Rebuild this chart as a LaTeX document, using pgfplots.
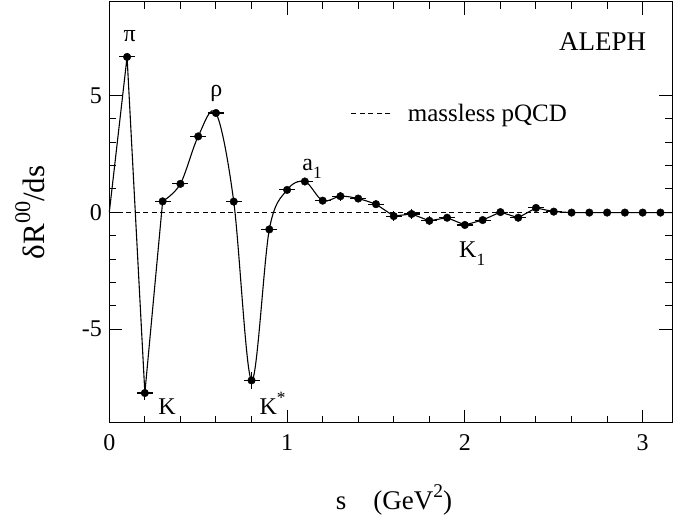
\documentclass[border=0pt]{standalone}
\usepackage{pgfplots}
\pgfplotsset{compat=1.18}
\usepackage{pgfplotstable}
\usepackage{graphicx}
\usepackage{fontspec}
\setmainfont{Liberation Serif}
\newcommand\sups[1]{\raisebox{0.45em}{\scalebox{0.72}{#1}}}
\newcommand\subs[1]{\raisebox{-0.32em}{\scalebox{0.72}{#1}}}

\pgfplotstableread{
x y ex ey
0.1 6.65 0.045 0.15
0.2 -7.73 0.045 0.30
0.3 0.47 0.045 0.10
0.4 1.22 0.045 0.10
0.5 3.25 0.045 0.10
0.6 4.25 0.045 0.10
0.7 0.46 0.045 0.10
0.8 -7.19 0.045 0.38
0.9 -0.73 0.045 0.10
1.0 0.96 0.045 0.10
1.1 1.32 0.045 0.10
1.2 0.50 0.045 0.15
1.3 0.69 0.045 0.20
1.4 0.59 0.045 0.15
1.5 0.35 0.045 0.10
1.6 -0.16 0.045 0.20
1.7 -0.07 0.045 0.20
1.8 -0.36 0.045 0.20
1.9 -0.23 0.045 0.15
2.0 -0.54 0.045 0.15
2.1 -0.33 0.045 0.10
2.2 0.01 0.045 0.10
2.3 -0.23 0.045 0.10
2.4 0.19 0.045 0.10
2.5 0.03 0.045 0.05
2.6 -0.01 0.045 0.05
2.7 -0.01 0.045 0.05
2.8 -0.01 0.045 0.05
2.9 -0.01 0.045 0.05
3.0 -0.01 0.045 0.05
3.1 -0.01 0.045 0.05
}\datatab

\begin{document}
\begin{tikzpicture}
\begin{axis}[
  scale only axis,
  width=562.7pt, height=420.7pt,
  xmin=0, xmax=3.165, ymin=-9, ymax=9,
  axis line style={line width=1pt},
  every tick/.style={line width=1pt, black},
  xtick={0,1,2,3}, ytick={-5,0,5},
  minor x tick num=4, minor y tick num=4,
  major tick length=13pt, minor tick length=7pt,
  tick align=inside,
  /pgf/number format/assume math mode=true,
  tick label style={font=\fontsize{24}{28}\selectfont},
  xticklabel style={yshift=-8pt},
  yticklabel style={xshift=-4pt},
  xlabel={s\quad(GeV\sups{2})},
  ylabel={δR\sups{00}/ds},
  xlabel style={font=\fontsize{27}{32}\selectfont, at={(axis description cs:0.506,-0.2075)}, anchor=base},
  ylabel style={font=\fontsize{31}{36}\selectfont, at={(axis description cs:-0.141,0.5)}, anchor=center, rotate=0},
  clip=false,
]
\addplot[black, line width=0.9pt, dash pattern=on 5pt off 3.5pt] coordinates {(0,0) (3.165,0)};
\addplot[black, line width=1.1pt, sharp plot] coordinates {(0,0) (0.1,6.65) (0.2,-7.73) (0.3,0.47)};
\addplot[black, line width=1.1pt, smooth, tension=0.55] table[x=x,y=y] {
x y
0.3 0.47
0.4 1.22
0.5 3.25
0.6 4.25
0.7 0.46
0.8 -7.19
0.9 -0.73
1.0 0.96
1.1 1.32
1.2 0.50
1.3 0.69
1.4 0.59
1.5 0.35
};
\addplot[black, line width=1.1pt, sharp plot] table[x=x,y=y] {
x y
1.5 0.35
1.6 -0.16
1.7 -0.07
1.8 -0.36
1.9 -0.23
2.0 -0.54
2.1 -0.33
2.2 0.01
2.3 -0.23
2.4 0.19
2.5 0.03
2.6 -0.01
2.7 -0.01
2.8 -0.01
2.9 -0.01
3.0 -0.01
3.1 -0.01
3.165 -0.01
};
\addplot[black, only marks, mark=*, mark size=3.8pt,
  error bars/.cd, x dir=both, x explicit, y dir=both, y explicit,
  error mark=none, error bar style={line width=1.1pt}]
  table[x=x, y=y, x error=ex, y error=ey] {\datatab};

\begin{scope}[every node/.style={font=\fontsize{24}{28}\selectfont, inner sep=0pt}]
\node[anchor=base west] at (axis cs:0.079,7.3) {π};
\node[anchor=base west] at (axis cs:0.567,4.94) {ρ};
\node[anchor=base west] at (axis cs:1.085,1.79) {a\subs{1}};
\node[anchor=base west] at (axis cs:0.275,-8.64) {K};
\node[anchor=base west] at (axis cs:0.844,-8.64) {K\sups{*}};
\node[anchor=base west] at (axis cs:1.967,-1.93) {K\subs{1}};
\end{scope}
\node[anchor=base west, inner sep=0pt, font=\fontsize{27}{32}\selectfont] at (axis cs:2.529,6.94) {ALEPH};
\draw[black, line width=0.9pt, dash pattern=on 5pt off 3.5pt] (axis cs:1.361,4.25) -- (axis cs:1.592,4.25);
\node[anchor=base west, inner sep=0pt, font=\fontsize{25}{30}\selectfont] at (axis cs:1.678,3.9) {massless pQCD};
\end{axis}
\pgfresetboundingbox
\path (-109.3pt,-93.3pt) rectangle (563.7pt,422.7pt);
\end{tikzpicture}
\end{document}
